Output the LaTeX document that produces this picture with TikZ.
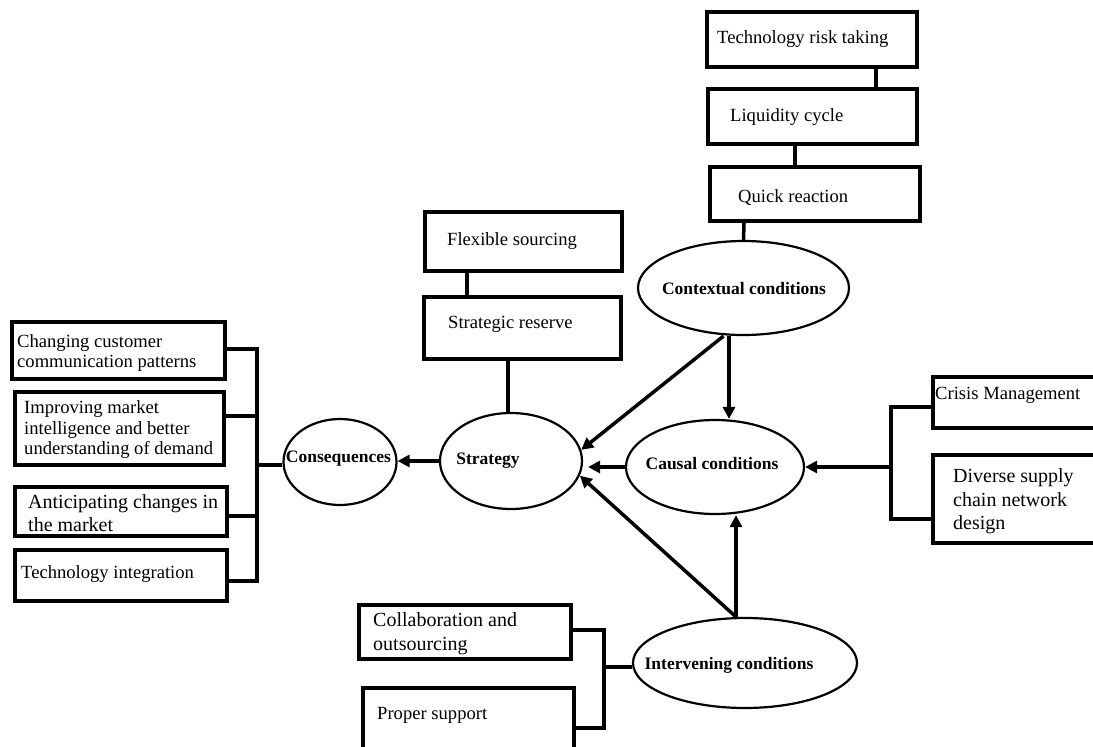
\documentclass[tikz,border=0pt]{standalone}
\usepackage{fontspec}
\setmainfont{Liberation Serif}
\usetikzlibrary{shapes.geometric,arrows.meta,calc}
\begin{document}
\begin{tikzpicture}[x=1pt,y=-1pt,
  box/.style={draw, rectangle, line width=4pt, inner sep=0pt},
  ell/.style={draw, ellipse, line width=2.2pt, inner sep=0pt},
  txt/.style={anchor=west, inner sep=0pt, align=left, yshift=-1.5pt, font=\fontsize{18.6}{20.5}\selectfont},
  big/.style={anchor=west, inner sep=0pt, align=left, yshift=-1.5pt, font=\fontsize{20}{23.5}\selectfont},
  bold/.style={inner sep=0pt, yshift=-1pt, font=\fontsize{17.5}{20}\selectfont\bfseries},
  conn/.style={line width=3.5pt},
  arr/.style={line width=3.5pt, -{Triangle[length=12pt,width=12pt]}}
]
\useasboundingbox (0,0) rectangle (1093,747);
\fill[white] (0,0) rectangle (1093,747);

% top chain
\node[box, minimum width=210, minimum height=55] (trt) at (812,39.5) {};
\node[txt] (trtT) at (717,38) {Technology risk taking};
\node[box, minimum width=209, minimum height=55] (lc) at (812.5,116.5) {};
\node[txt] (lcT) at (730,116) {Liquidity cycle};
\node[box, minimum width=210, minimum height=54] (qr) at (815,194) {};
\node[txt] (qrT) at (738,196) {Quick reaction};

% strategy boxes
\node[box, minimum width=197, minimum height=59] (fs) at (523.5,241.5) {};
\node[txt] (fsT) at (447,240) {Flexible sourcing};
\node[box, minimum width=197, minimum height=62] (sr) at (522.5,328) {};
\node[txt] (srT) at (448,323) {Strategic reserve};

% left boxes
\node[box, minimum width=213, minimum height=57] (ccc) at (118.5,350.5) {};
\node[txt] (cccT) at (17,351.5) {Changing customer\\communication patterns};
\node[box, minimum width=209, minimum height=73] (imi) at (119.5,428.5) {};
\node[txt] (imiT) at (24,428.5) {Improving market\\intelligence and better\\understanding of demand};
\node[box, minimum width=212, minimum height=49] (acm) at (121,511.5) {};
\node[big] (acmT) at (28,511.5) {Anticipating changes in\\the market};
\node[box, minimum width=212, minimum height=51] (ti) at (121,575.5) {};
\node[txt] (tiT) at (21,573) {Technology integration};

% right boxes
\node[box, minimum width=167, minimum height=51] (cr) at (1016.5,402.5) {};
\node[txt] (crT) at (935,394) {Crisis Management};
\node[box, minimum width=167, minimum height=88] (dsc) at (1016.5,499) {};
\node[big] (dscT) at (953,500) {Diverse supply\\chain network\\design};

% bottom boxes
\node[box, minimum width=212, minimum height=54] (cao) at (465,632) {};
\node[big] (caoT) at (373,632) {Collaboration and\\outsourcing};
\node[box, minimum width=211, minimum height=68] (ps) at (468.5,722) {};
\node[txt] (psT) at (377,714) {Proper support};

% ellipses
\node[ell, minimum width=211, minimum height=94] (ctx) at (743.5,288) {};
\node[bold] (ctxT) at (744,288) {Contextual conditions};
\node[ell, minimum width=142, minimum height=96] (str) at (511,461) {};
\node[bold] (strT) at (488,460) {Strategy};
\node[ell, minimum width=113, minimum height=86] (con) at (340,462) {};
\node[bold] (conT) at (338.5,458) {Consequences};
\node[ell, minimum width=178, minimum height=94] (cau) at (715,467) {};
\node[bold] (cauT) at (712,463) {Causal conditions};
\node[ell, minimum width=224, minimum height=90] (int) at (745,663) {};
\node[bold] (intT) at (729,664) {Intervening conditions};

% chain connectors
\draw[conn] (876,0 |- trt.south) -- (876,0 |- lc.north);
\draw[conn] (795,0 |- lc.south) -- (795,0 |- qr.north);
\draw[conn] (744,0 |- qr.south) -- (ctx.north);
\draw[conn] (467,0 |- fs.south) -- (467,0 |- sr.north);
\draw[conn] (508,0 |- sr.south) -- (508,0 |- str.north);

% arrows among ellipses
\draw[arr] (str.west) -- (con.east |- str.west);
\draw[arr] (cau.west) -- ([xshift=5pt]str.east |- cau.west);
\draw[arr] (729,0 |- ctx.south) -- (729,0 |- cau.north);
\draw[arr] ([xshift=-20pt]ctx.south) -- (str.9);
\draw[arr] ([xshift=-9pt]int.north) -- (str.-12);
\draw[arr] ([xshift=-9pt]int.north) -- ([xshift=-9pt]int.north |- cau.south);

% right bracket
\coordinate (rb) at (891,467);
\draw[conn] ([yshift=-4.5pt]cr.west) -| (rb) |- ([yshift=-20pt]dsc.west);
\draw[arr] (rb) -- (cau.east);

% left bracket
\coordinate (lb) at (257,465);
\draw[conn] ([yshift=1.5pt]ccc.east) -| (lb) |- ([yshift=-5.5pt]ti.east);
\draw[conn] ([yshift=12.5pt]imi.east) -| (lb);
\draw[conn] ([yshift=-4.5pt]acm.east) -| (lb);
\draw[conn] (lb) -- (con.west |- lb);

% bottom bracket
\coordinate (bb) at (604,667);
\draw[conn] ([yshift=2pt]cao.east) -| (bb) |- ([yshift=-6pt]ps.east);
\draw[conn] (bb) -- (int.west |- bb);
\end{tikzpicture}
\end{document}
